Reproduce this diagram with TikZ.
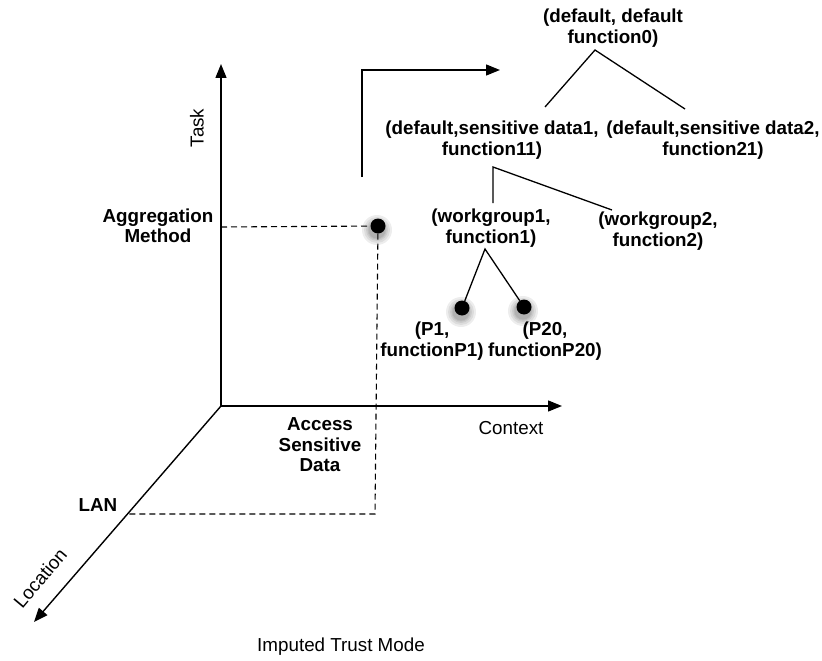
\documentclass[tikz,border=0pt]{standalone}
\usepackage{fontspec}
\setmainfont{Liberation Sans}
\usetikzlibrary{arrows.meta}
\begin{document}
\begin{tikzpicture}[x=1pt,y=-1pt,
  axis/.style={line width=1.4pt, -{Triangle[length=14pt,width=11pt]}},
  branch/.style={line width=1.3pt},
  guide/.style={line width=1.1pt, dash pattern=on 6pt off 4pt},
  lbl/.style={font=\fontsize{18.8}{20.5}\selectfont, inner sep=0pt, align=center},
  blbl/.style={lbl, font=\fontsize{18.8}{20.5}\selectfont\bfseries},
  dot/.style={circle, fill=black, minimum size=15pt, inner sep=0pt},
  halo/.style={black, opacity=0.07}
]
\useasboundingbox (0,0) rectangle (822,661);

% axes
\coordinate (O) at (221,406);
\coordinate (taskTip) at (221,64);
\coordinate (ctxTip) at (562,406);
\coordinate (locTip) at (34,622);
\draw[axis] (O) -- (taskTip);
\draw[axis] (O) -- (ctxTip);
\draw[axis] (O) -- (locTip);

\node[lbl, rotate=90] (task) at (197,128) {Task};
\node[lbl] (ctx) at (511,428) {Context};
\node[lbl, rotate=50] (loc) at (40,578) {Location};
\node[lbl] (title) at (341,647) {Imputed Trust Mode};

\node[blbl] (aggm) at (158,226) {Aggregation\\Method};
\node[blbl] (asd) at (320,445) {Access\\Sensitive\\Data};
\node[blbl] (lan) at (98,505) {LAN};

% soft shadows below the dots
\foreach \cx/\cy in {377/230, 461/312, 523/311}{
  \foreach \r in {15,13,11,9.5,8.5}{\fill[halo] (\cx,\cy) circle (\r);}
}

% sample point and its projections
\coordinate (taskPt) at (221,227);
\coordinate (corner) at (375,514);
\coordinate (lanPt) at (129,514);
\node[dot] (agg) at (378,226) {};
\draw[guide] (taskPt) -- (agg);
\draw[guide] (agg) -- (corner) -- (lanPt);

% bent arrow
\coordinate (bentStart) at (362,177);
\coordinate (bentTip) at (500,70);
\draw[axis] (bentStart) |- (bentTip);

% hierarchy
\node[blbl] (root) at (613,28) {(default, default\\function0)};
\node[blbl] (n11) at (492,140) {(default,sensitive data1,\\function11)};
\node[blbl] (n21) at (713,140) {(default,sensitive data2,\\function21)};
\node[blbl] (wg1) at (491,228) {(workgroup1,\\function1)};
\node[blbl] (wg2) at (658,231) {(workgroup2,\\function2)};
\node[dot] (p1) at (462,308) {};
\node[dot] (p20) at (524,307) {};
\node[blbl] (p1l) at (432,341) {(P1,\\functionP1)};
\node[blbl] (p20l) at (545,341) {(P20,\\functionP20)};

\coordinate (rootApex) at (595,50);
\coordinate (n11Top) at (545,107);
\coordinate (n21Top) at (685,109);
\coordinate (n11Apex) at (493,167);
\coordinate (wg1Top) at (493,203);
\coordinate (wg2Top) at (612,210);
\coordinate (wg1Apex) at (485,249);

\draw[branch] (n11Top) -- (rootApex) -- (n21Top);
\draw[branch] (wg1Top) -- (n11Apex) -- (wg2Top);
\draw[branch] (p1) -- (wg1Apex) -- (p20);
\end{tikzpicture}
\end{document}
